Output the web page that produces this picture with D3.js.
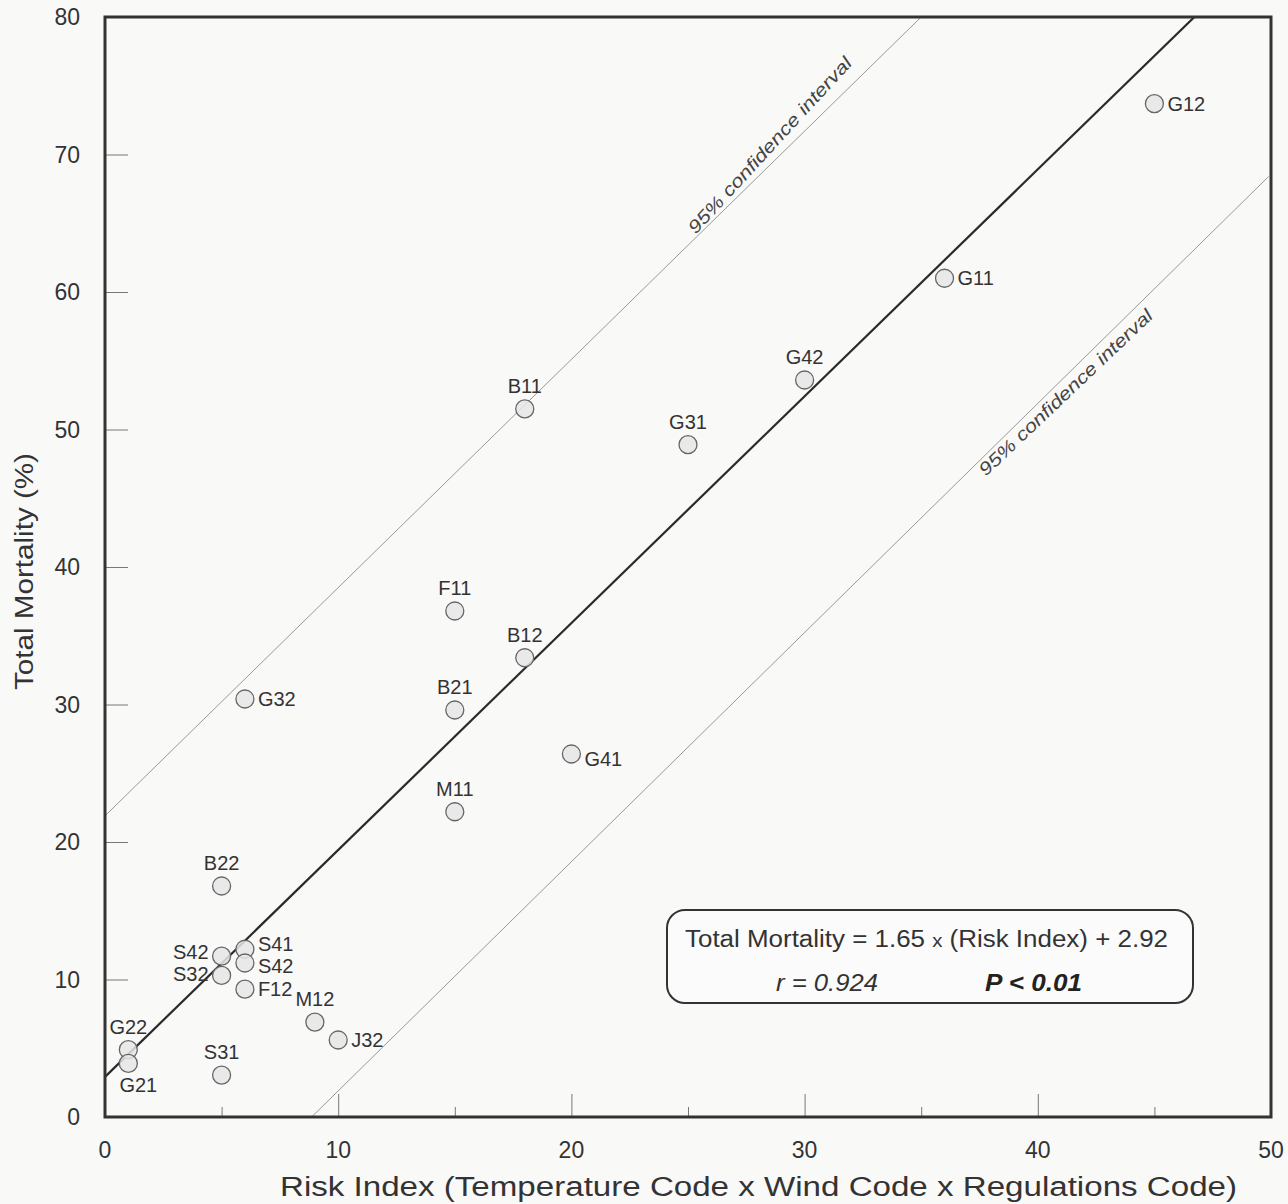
<!DOCTYPE html>
<html>
<head>
<meta charset="utf-8">
<script src="https://cdn.jsdelivr.net/npm/d3@7"></script>
<style>
    body { margin: 0; background: #f9f9f8; }
    svg { display: block; font-family: "Liberation Sans", Arial, sans-serif; }
    .tick-label { fill: #333; font-size: 23px; }
    .axis-title { fill: #333; font-size: 27px; }
    .pt-label { fill: #333; font-size: 20px; }
</style>
</head>
<body>
<div id="chart"></div>
<script>
// plot data
const codes = ["G12", "G11", "G42", "G31", "B11", "F11", "B12", "B21", "G32", "G41", "M11",
    "B22", "S42", "S41", "S42", "S32", "F12", "M12", "J32", "G22", "G21", "S31"];
const riskIndex = [45, 36, 30, 25, 18, 15, 18, 15, 6, 20, 15, 5, 5, 6, 6, 5, 6, 9, 10, 1, 1, 5];
const mortality = [73.7, 61.0, 53.6, 48.9, 51.5, 36.8, 33.4, 29.6, 30.4, 26.4, 22.2,
    16.8, 11.7, 12.2, 11.2, 10.3, 9.3, 6.9, 5.6, 4.9, 3.9, 3.05];

const xTicks = [0, 10, 20, 30, 40, 50];
const xMinorTicks = [5, 15, 25, 35, 45];
const yTicks = [0, 10, 20, 30, 40, 50, 60, 70, 80];

// regression: Total Mortality = 1.65 x (Risk Index) + 2.92
const slope = 1.65;
const intercept = 2.92;
// 95% confidence lines, end points
const upperCI = [[0, 21.9], [35.0, 80]];
const lowerCI = [[8.86, 0], [49.9, 68.4]];

const width = 1288, height = 1204;
const margin = {top: 17, right: 17, bottom: 87, left: 105};

const x = d3.scaleLinear().domain([0, 50]).range([margin.left, width - margin.right]);
const y = d3.scaleLinear().domain([0, 80]).range([height - margin.bottom, margin.top]);

const svg = d3.select("#chart").append("svg")
    .attr("width", width)
    .attr("height", height);

// ticks (inside the frame)
svg.append("g")
    .attr("transform", `translate(0,${y(0)})`)
    .call(d3.axisTop(x).tickValues(xTicks).tickSize(23).tickFormat(""))
    .call(g => g.select(".domain").remove())
    .call(g => g.selectAll(".tick line").attr("stroke", "#777"));

svg.append("g")
    .attr("transform", `translate(0,${y(0)})`)
    .call(d3.axisTop(x).tickValues(xMinorTicks).tickSize(10).tickFormat(""))
    .call(g => g.select(".domain").remove())
    .call(g => g.selectAll(".tick line").attr("stroke", "#777"));

svg.append("g")
    .attr("transform", `translate(${x(0)},0)`)
    .call(d3.axisRight(y).tickValues(yTicks.slice(1, -1)).tickSize(23).tickFormat(""))
    .call(g => g.select(".domain").remove())
    .call(g => g.selectAll(".tick line").attr("stroke", "#777"));

// tick labels
svg.append("g")
    .selectAll("text")
    .data(xTicks)
    .join("text")
    .attr("class", "tick-label")
    .attr("x", d => x(d))
    .attr("y", y(0) + 41)
    .attr("text-anchor", "middle")
    .text(d => d);

svg.append("g")
    .selectAll("text")
    .data(yTicks)
    .join("text")
    .attr("class", "tick-label")
    .attr("x", x(0) - 25)
    .attr("y", d => y(d) + 8)
    .attr("text-anchor", "end")
    .text(d => d);

// axis titles
svg.append("text")
    .attr("class", "axis-title")
    .attr("x", 280)
    .attr("y", height - 8)
    .attr("textLength", 957)
    .attr("lengthAdjust", "spacingAndGlyphs")
    .text("Risk Index (Temperature Code x Wind Code x Regulations Code)");

svg.append("text")
    .attr("class", "axis-title")
    .attr("font-size", 25)
    .style("font-size", "25px")
    .attr("transform", `translate(33,690) rotate(-90)`)
    .attr("textLength", 237)
    .attr("lengthAdjust", "spacingAndGlyphs")
    .text("Total Mortality (%)");

// clip lines to the frame
svg.append("clipPath")
    .attr("id", "plot-clip")
    .append("rect")
    .attr("x", x(0))
    .attr("y", y(80))
    .attr("width", x(50) - x(0))
    .attr("height", y(0) - y(80));

const line = d3.line().x(d => x(d[0])).y(d => y(d[1]));

svg.append("g")
    .attr("clip-path", "url(#plot-clip)")
    .selectAll("path")
    .data([upperCI, lowerCI])
    .join("path")
    .attr("d", line)
    .attr("fill", "none")
    .attr("stroke", "#999")
    .attr("stroke-width", 1);

svg.append("path")
    .attr("clip-path", "url(#plot-clip)")
    .attr("d", line([[0, intercept], [(80 - intercept) / slope, 80]]))
    .attr("fill", "none")
    .attr("stroke", "#2a2a2a")
    .attr("stroke-width", 2.2);

// confidence labels
const ciLabel = (pts, at, dy, tilt) => {
    const ang = Math.atan2(y(pts[1][1]) - y(pts[0][1]), x(pts[1][0]) - x(pts[0][0])) * 180 / Math.PI;
    const t = (at - pts[0][0]) / (pts[1][0] - pts[0][0]);
    const yy = pts[0][1] + t * (pts[1][1] - pts[0][1]);
    svg.append("text")
        .attr("transform", `translate(${x(at)},${y(yy)}) rotate(${ang + tilt})`)
        .attr("dy", dy)
        .attr("fill", "#444")
        .attr("font-size", 18)
        .attr("font-style", "italic")
        .attr("textLength", 232)
        .attr("lengthAdjust", "spacingAndGlyphs")
        .text("95% confidence interval");
};
ciLabel(upperCI, 25.4, -2, -3);
ciLabel(lowerCI, 37.3, 16, 1);

// points
const labelPlacement = ["right", "right", "top", "top", "top", "top", "top", "top", "right", "rightLow", "top",
    "top", "left2", "right1", "right9", "left5", "right", "top", "right", "top", "bottom", "top"];

const pts = codes.map((c, i) => ({code: c, x: riskIndex[i], y: mortality[i], pos: labelPlacement[i]}));

svg.append("g")
    .selectAll("circle")
    .data(pts)
    .join("circle")
    .attr("cx", d => x(d.x))
    .attr("cy", d => y(d.y))
    .attr("r", 9)
    .attr("fill", "#e6e6e6")
    .attr("fill-opacity", 0.85)
    .attr("stroke", "#666")
    .attr("stroke-width", 1.3);

const offsets = {
    right: [13, 7, "start"],
    right1: [13, 2, "start"],
    right9: [13, 10, "start"],
    rightLow: [13, 12, "start"],
    left2: [-13, 3, "end"],
    left5: [-13, 6, "end"],
    top: [0, -16, "middle"],
    bottom: [10, 29, "middle"]
};

svg.append("g")
    .selectAll("text")
    .data(pts)
    .join("text")
    .attr("class", "pt-label")
    .attr("x", d => x(d.x) + offsets[d.pos][0])
    .attr("y", d => y(d.y) + offsets[d.pos][1])
    .attr("text-anchor", d => offsets[d.pos][2])
    .text(d => d.code);

// frame
svg.append("rect")
    .attr("x", x(0))
    .attr("y", y(80))
    .attr("width", x(50) - x(0))
    .attr("height", y(0) - y(80))
    .attr("fill", "none")
    .attr("stroke", "#333")
    .attr("stroke-width", 3);

// equation box
const box = svg.append("g").attr("transform", "translate(667,910)");
box.append("rect")
    .attr("width", 526)
    .attr("height", 93)
    .attr("rx", 18)
    .attr("fill", "#fbfbfb")
    .attr("stroke", "#333")
    .attr("stroke-width", 2);

const eq = box.append("text")
    .attr("x", 18)
    .attr("y", 37)
    .attr("font-size", 23)
    .attr("fill", "#333")
    .attr("textLength", 483)
    .attr("lengthAdjust", "spacingAndGlyphs");
eq.append("tspan").text("Total Mortality = " + slope.toFixed(2) + " ");
eq.append("tspan").attr("font-size", 18).text("x");
eq.append("tspan").text(" (Risk Index) + " + intercept.toFixed(2));

box.append("text")
    .attr("x", 109)
    .attr("y", 81)
    .attr("font-size", 23)
    .attr("font-style", "italic")
    .attr("fill", "#333")
    .attr("textLength", 102)
    .attr("lengthAdjust", "spacingAndGlyphs")
    .text("r = 0.924");

box.append("text")
    .attr("x", 318)
    .attr("y", 81)
    .attr("font-size", 23)
    .attr("font-style", "italic")
    .attr("font-weight", "bold")
    .attr("fill", "#222")
    .attr("textLength", 97)
    .attr("lengthAdjust", "spacingAndGlyphs")
    .text("P < 0.01");
</script>
</body>
</html>
